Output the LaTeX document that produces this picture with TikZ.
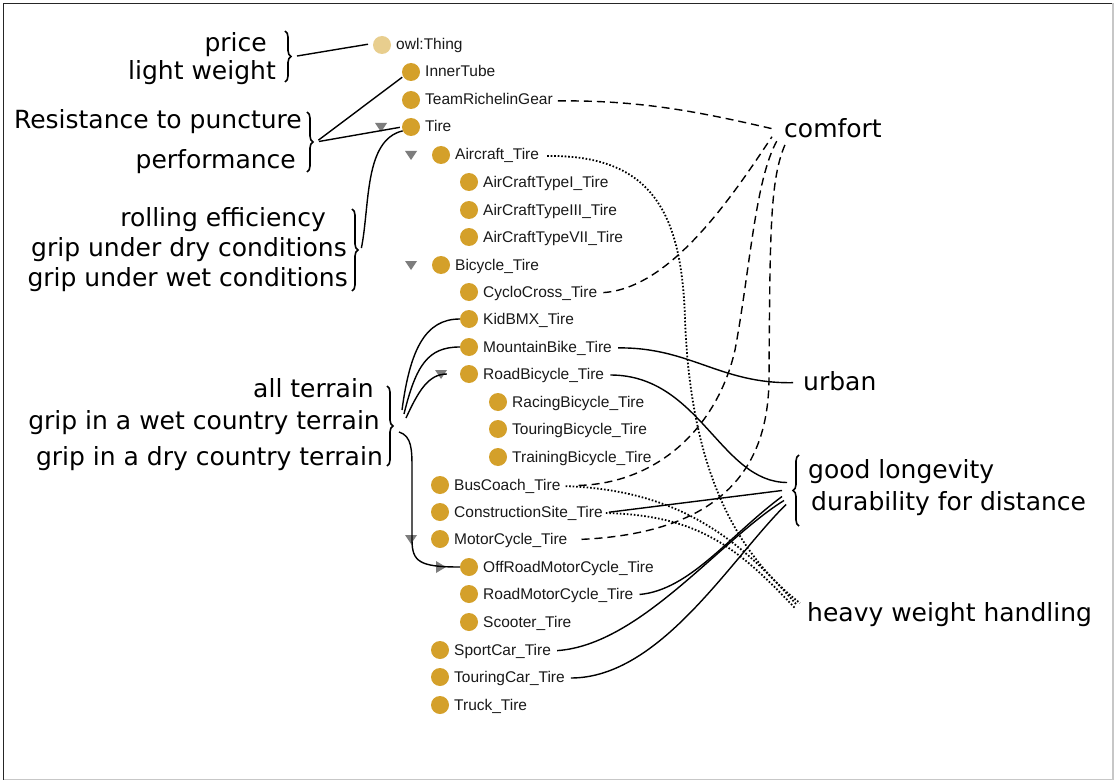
\documentclass[tikz,border=0pt]{standalone}
\usepackage{fontspec}
\newfontfamily\annfont{DejaVu Sans}
\newfontfamily\treefont{Liberation Sans}
\usetikzlibrary{decorations.pathreplacing,calc}
\definecolor{gold}{RGB}{212,160,42}
\definecolor{paleGold}{RGB}{232,206,142}
\definecolor{triGray}{RGB}{125,125,125}
\newcommand{\treeitem}[5]{%
  \node[dot,fill=#5] (c#1) at (#2,#3) {};
  \node[tt] (t#1) at (#2+14,#3+5) {#4};}
\newcommand{\tridown}[2]{\fill[triGray] (#1-6,#2-4) -- (#1+6,#2-4) -- (#1,#2+5) -- cycle;}
\newcommand{\triright}[2]{\fill[triGray] (#1-5,#2-6) -- (#1-5,#2+6) -- (#1+5,#2) -- cycle;}
\begin{document}
\begin{tikzpicture}[x=1pt,y=-1pt,
  ann/.style={font=\annfont\fontsize{25}{27}\selectfont, inner sep=0pt},
  tt/.style={font=\treefont\fontsize{15.5}{17}\selectfont, inner sep=0pt, anchor=base west,
             text=black!90, text height=11pt, text depth=3pt},
  dot/.style={circle, minimum size=18pt, inner sep=0pt},
  conn/.style={line width=1.4pt},
  dsh/.style={line width=1.4pt, dash pattern=on 8pt off 5pt},
  dtd/.style={line width=1.8pt, dash pattern=on 1.6pt off 1.9pt},
  brc/.style={decorate, decoration={brace, amplitude=6pt}, line width=1.6pt},
]
\useasboundingbox (0,0) rectangle (1114,781);
\fill[white] (0,0) rectangle (1114,781);
\draw[black!85, line width=1.2pt] (3.5,779.5) -- (3.5,3.5) -- (1113,3.5);
\draw[black!22, line width=1.5pt] (1113,3.5) -- (1113,779.5) -- (3.5,779.5);

% ---------- tree ----------
\treeitem{Owl}{382}{45}{owl:Thing}{paleGold}
\treeitem{InnerTube}{411}{72}{InnerTube}{gold}
\treeitem{Team}{411}{100}{TeamRichelinGear}{gold}
\treeitem{Tire}{411}{127}{Tire}{gold}
\treeitem{Aircraft}{441}{155}{Aircraft\_Tire}{gold}
\treeitem{ACone}{469}{182}{AirCraftTypeI\_Tire}{gold}
\treeitem{ACthree}{469}{210}{AirCraftTypeIII\_Tire}{gold}
\treeitem{ACseven}{469}{237}{AirCraftTypeVII\_Tire}{gold}
\treeitem{Bicycle}{441}{265}{Bicycle\_Tire}{gold}
\treeitem{Cyclo}{469}{292}{CycloCross\_Tire}{gold}
\treeitem{KidBMX}{469}{319}{KidBMX\_Tire}{gold}
\treeitem{Mountain}{469}{347}{MountainBike\_Tire}{gold}
\treeitem{RoadBicycle}{469}{374}{RoadBicycle\_Tire}{gold}
\treeitem{Racing}{498}{402}{RacingBicycle\_Tire}{gold}
\treeitem{TouringB}{498}{429}{TouringBicycle\_Tire}{gold}
\treeitem{Training}{498}{457}{TrainingBicycle\_Tire}{gold}
\treeitem{Bus}{440}{485}{BusCoach\_Tire}{gold}
\treeitem{Construction}{440}{512}{ConstructionSite\_Tire}{gold}
\treeitem{Motor}{440}{539}{MotorCycle\_Tire}{gold}
\treeitem{OffRoad}{469}{567}{OffRoadMotorCycle\_Tire}{gold}
\treeitem{RoadMotor}{469}{594}{RoadMotorCycle\_Tire}{gold}
\treeitem{Scooter}{469}{622}{Scooter\_Tire}{gold}
\treeitem{SportCar}{440}{650}{SportCar\_Tire}{gold}
\treeitem{TouringCar}{440}{677}{TouringCar\_Tire}{gold}
\treeitem{Truck}{440}{705}{Truck\_Tire}{gold}

\tridown{381}{127}
\tridown{411}{155}
\tridown{411}{265}
\tridown{441}{374}
\tridown{411}{539}
\triright{441}{567}

% ---------- left annotations ----------
\node[ann, anchor=base east] (price) at (267,52) {price};
\node[ann, anchor=base east] (light) at (276,80) {light weight};
\node[ann, anchor=base east] (resist) at (302,129) {Resistance to puncture};
\node[ann, anchor=base east] (perf) at (296,168) {performance};
\node[ann, anchor=base east] (rolling) at (326,226) {rolling efficiency};
\node[ann, anchor=base east] (dry) at (347,256) {grip under dry conditions};
\node[ann, anchor=base east] (wet) at (348,286) {grip under wet conditions};
\node[ann, anchor=base east] (allt) at (374,397) {all terrain};
\node[ann, anchor=base east] (wetc) at (380,429) {grip in a wet country terrain};
\node[ann, anchor=base east] (dryc) at (383,465) {grip in a dry country terrain};

% ---------- right annotations ----------
\node[ann, anchor=base west] (comfort) at (784,138) {comfort};
\node[ann, anchor=base west] (urban) at (803,390) {urban};
\node[ann, anchor=base west] (good) at (808,478) {good longevity};
\node[ann, anchor=base west] (dura) at (811,510) {durability for distance};
\node[ann, anchor=base west] (heavy) at (807,621) {heavy weight handling};

% ---------- braces ----------
\draw[brc] (285,31) -- (285,82) coordinate[midway, xshift=9pt] (b1);
\draw[brc] (307,112) -- (307,172) coordinate[midway, xshift=9pt] (b2);
\draw[brc] (352,209) -- (352,291) coordinate[midway, xshift=9pt] (b3);
\draw[brc] (387,386) -- (387,466) coordinate[midway, xshift=9pt] (b4);
\draw[brc] (799,526) -- (799,455) coordinate[midway, xshift=-9pt] (b5);

% ---------- left connectors ----------
\draw[conn, shorten <=3pt, shorten >=5pt] (b1) -- (cOwl.170);
\draw[conn, shorten <=3pt, shorten >=1pt] (b2) -- (cInnerTube.210);
\draw[conn, shorten <=3pt, shorten >=2pt] (b2) -- (cTire.west);
\draw[conn, shorten <=2pt] (b3) .. controls (370,205) and (364,140) .. (cTire.205);
\draw[conn] ($(b4)+(6,-16)$) .. controls (410,350) and (425,319) .. (cKidBMX.west);
\draw[conn] ($(b4)+(8,-12)$) .. controls (416,365) and (428,347) .. (cMountain.west);
\draw[conn, shorten >=13pt] ($(b4)+(10,-8)$) .. controls (418,392) and (428,374) .. (cRoadBicycle.west);
\draw[conn] ($(b4)+(3,6)$) .. controls (412,436) and (412,450) .. (412,470) -- (412,540)
   .. controls (412,562) and (420,567) .. (cOffRoad.west);

% ---------- comfort (dashed) ----------
\draw[dsh, shorten <=5pt] (tTeam.east) .. controls (640,100) and (700,112) .. ($(comfort.west)+(-12,0)$);
\draw[dsh, shorten <=6pt] (tCyclo.east) .. controls (670,288) and (730,200) .. ($(comfort.west)+(-12,8)$);
\draw[dsh, shorten <=18pt] (tBus.east) .. controls (660,483) and (718,425) .. (735,350)
   .. controls (750,270) and (755,180) .. ($(comfort.west)+(-7,12)$);
\draw[dsh, shorten <=14pt] (tMotor.east) .. controls (740,532) and (768,450) .. (769,380)
   .. controls (770,230) and (770,180) .. ($(comfort.west)+(1,16)$);

% ---------- urban ----------
\draw[conn, shorten <=6pt] (tMountain.east) .. controls (690,347) and (720,384) .. ($(urban.west)+(-10,2)$);

% ---------- good longevity ----------
\draw[conn, shorten <=6pt] (tRoadBicycle.east) .. controls (700,375) and (720,482) .. ($(b5)+(-3,-8)$);
\draw[conn, shorten <=6pt] (tConstruction.east) -- ($(b5)+(-8,0)$);
\draw[conn, shorten <=6pt] (tRoadMotor.east) .. controls (690,590) and (730,535) .. ($(b5)+(-8,6)$);
\draw[conn, shorten <=6pt] (tSportCar.east) .. controls (640,645) and (720,540) .. ($(b5)+(-6,10)$);
\draw[conn, shorten <=6pt] (tTouringCar.east) .. controls (660,678) and (730,560) .. ($(b5)+(-4,14)$);

% ---------- heavy weight handling (dotted) ----------
\draw[dtd, shorten <=8pt] (tAircraft.east) .. controls (650,155) and (682,210) .. (685,320)
   .. controls (690,450) and (725,545) .. ($(heavy.west)+(-7,-11)$);
\draw[dtd, shorten <=5pt] (tBus.east) .. controls (680,490) and (740,540) .. ($(heavy.west)+(-10,-9)$);
\draw[dtd, shorten <=3pt] (tConstruction.east) .. controls (700,515) and (740,550) .. ($(heavy.west)+(-12,-6)$);
\end{tikzpicture}
\end{document}
